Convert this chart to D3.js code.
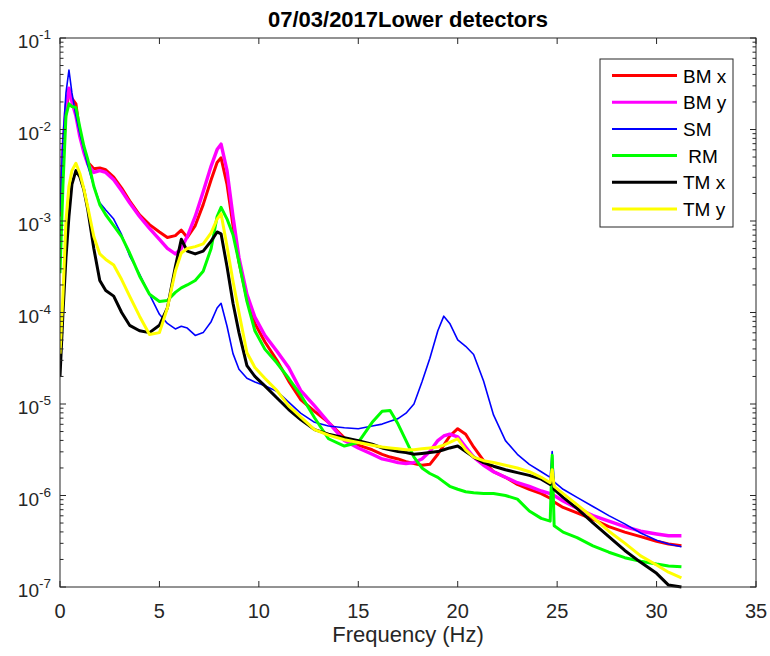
<!DOCTYPE html>
<html>
<head>
<meta charset="utf-8">
<script src="https://cdn.jsdelivr.net/npm/d3@7"></script>
<style>
  body { margin: 0; background: #fff; }
  svg { font-family: "Liberation Sans", Arial, sans-serif; }
</style>
</head>
<body>
<div id="canvas"></div>
<script>
"use strict"
let svgWidth = 770;
let svgHeight = 656;

let marginLeft = 60;
let marginRight = 14;
let marginTop = 38;
let marginBottom = 69;

// frequency grid (Hz), shared by all series
let freqs = [0, 0.15, 0.3, 0.45, 0.6, 0.8, 1.0, 1.2, 1.4, 1.7, 2.0, 2.3, 2.7, 3.1, 3.5, 4.0, 4.5, 5.0, 5.4, 5.8,
    6.1, 6.4, 6.8, 7.2, 7.6, 7.9, 8.1, 8.4, 8.7, 9.0, 9.4, 9.8, 10.3, 10.9, 11.5, 12.1, 12.8, 13.5, 14.3, 15.0,
    15.7, 16.2, 16.6, 17.0, 17.4, 17.8, 18.2, 18.6, 19.0, 19.3, 19.6, 20.0, 20.4, 20.8, 21.3, 21.8, 22.4, 23.0, 23.6, 24.2,
    24.65, 24.75, 24.85, 25.3, 26.0, 26.8, 27.6, 28.4, 29.2, 30.0, 30.6, 31.25];

let bmX = [1.12e-3, 5.0e-3, 1.58e-2, 2.51e-2, 2.19e-2, 1.91e-2, 8.91e-3, 6.03e-3, 4.37e-3, 3.72e-3, 3.80e-3, 3.63e-3, 3.02e-3, 2.29e-3, 1.66e-3, 1.17e-3, 9.12e-4, 7.59e-4, 6.61e-4, 6.92e-4,
    7.94e-4, 6.61e-4, 8.91e-4, 1.51e-3, 2.82e-3, 4.37e-3, 4.90e-3, 2.51e-3, 8.91e-4, 3.55e-4, 1.41e-4, 7.59e-5, 4.79e-5, 3.02e-5, 1.78e-5, 1.12e-5, 8.32e-6, 6.31e-6, 4.27e-6, 3.55e-6,
    3.16e-6, 2.82e-6, 2.63e-6, 2.51e-6, 2.34e-6, 2.24e-6, 2.14e-6, 2.19e-6, 2.82e-6, 3.55e-6, 4.47e-6, 5.37e-6, 4.68e-6, 3.39e-6, 2.40e-6, 1.82e-6, 1.58e-6, 1.32e-6, 1.17e-6, 1.05e-6,
    9.33e-7, 8.91e-7, 8.51e-7, 7.41e-7, 6.46e-7, 5.50e-7, 4.57e-7, 3.98e-7, 3.55e-7, 3.16e-7, 2.95e-7, 2.82e-7];

let bmY = [1.26e-3, 6.31e-3, 1.78e-2, 2.82e-2, 2.0e-2, 1.41e-2, 8.32e-3, 5.62e-3, 4.17e-3, 3.39e-3, 3.55e-3, 3.39e-3, 2.82e-3, 2.14e-3, 1.58e-3, 1.12e-3, 8.32e-4, 6.31e-4, 5.01e-4, 4.37e-4,
    5.01e-4, 6.76e-4, 1.12e-3, 2.09e-3, 3.98e-3, 6.03e-3, 6.92e-3, 3.55e-3, 1.12e-3, 3.98e-4, 1.58e-4, 8.91e-5, 5.62e-5, 3.80e-5, 2.51e-5, 1.41e-5, 9.55e-6, 6.31e-6, 3.98e-6, 3.31e-6,
    2.82e-6, 2.51e-6, 2.40e-6, 2.29e-6, 2.24e-6, 2.29e-6, 2.51e-6, 3.02e-6, 3.98e-6, 4.47e-6, 4.68e-6, 4.37e-6, 3.39e-6, 2.63e-6, 2.14e-6, 1.82e-6, 1.58e-6, 1.38e-6, 1.26e-6, 1.12e-6,
    1.05e-6, 1.02e-6, 1.0e-6, 8.71e-7, 7.24e-7, 6.03e-7, 5.25e-7, 4.57e-7, 4.07e-7, 3.80e-7, 3.63e-7, 3.63e-7];

let sm = [1.26e-3, 7.94e-3, 2.51e-2, 4.47e-2, 2.51e-2, 1.41e-2, 8.91e-3, 6.03e-3, 3.98e-3, 2.40e-3, 1.58e-3, 1.32e-3, 1.05e-3, 7.08e-4, 4.17e-4, 2.63e-4, 1.58e-4, 9.55e-5, 7.59e-5, 6.61e-5,
    7.08e-5, 6.76e-5, 5.62e-5, 6.03e-5, 7.94e-5, 1.12e-4, 1.26e-4, 7.08e-5, 3.55e-5, 2.40e-5, 1.91e-5, 1.74e-5, 1.58e-5, 1.38e-5, 1.05e-5, 7.94e-6, 6.31e-6, 5.75e-6, 5.50e-6, 5.37e-6,
    5.75e-6, 6.03e-6, 6.46e-6, 6.92e-6, 7.94e-6, 1.0e-5, 1.74e-5, 3.16e-5, 6.31e-5, 9.12e-5, 7.59e-5, 5.01e-5, 4.27e-5, 3.47e-5, 1.78e-5, 7.59e-6, 3.98e-6, 2.82e-6, 2.19e-6, 1.82e-6,
    1.58e-6, 3.02e-6, 1.41e-6, 1.17e-6, 9.55e-7, 7.59e-7, 6.03e-7, 4.90e-7, 3.89e-7, 3.24e-7, 2.95e-7, 2.75e-7];

let rm = [2.69e-4, 2.51e-3, 1.41e-2, 1.91e-2, 1.78e-2, 1.74e-2, 1.05e-2, 6.61e-3, 4.68e-3, 2.40e-3, 1.51e-3, 1.17e-3, 8.91e-4, 6.76e-4, 4.47e-4, 2.51e-4, 1.58e-4, 1.32e-4, 1.35e-4, 1.66e-4,
    1.86e-4, 2.0e-4, 2.24e-4, 2.82e-4, 5.01e-4, 1.12e-3, 1.41e-3, 1.05e-3, 7.08e-4, 3.55e-4, 1.32e-4, 6.31e-5, 3.98e-5, 2.82e-5, 1.91e-5, 1.26e-5, 7.08e-6, 4.17e-6, 3.47e-6, 3.80e-6,
    6.31e-6, 8.32e-6, 8.51e-6, 6.03e-6, 3.98e-6, 2.63e-6, 2.0e-6, 1.74e-6, 1.58e-6, 1.41e-6, 1.26e-6, 1.17e-6, 1.10e-6, 1.07e-6, 1.05e-6, 1.05e-6, 1.0e-6, 9.12e-7, 6.76e-7, 5.62e-7,
    5.25e-7, 2.75e-6, 4.68e-7, 3.98e-7, 3.47e-7, 2.82e-7, 2.40e-7, 2.09e-7, 1.91e-7, 1.78e-7, 1.70e-7, 1.66e-7];

let tmX = [2.0e-5, 1.0e-4, 3.98e-4, 1.12e-3, 2.51e-3, 3.55e-3, 3.02e-3, 2.19e-3, 1.32e-3, 5.01e-4, 2.24e-4, 1.74e-4, 1.51e-4, 1.0e-4, 7.24e-5, 6.31e-5, 6.03e-5, 7.24e-5, 1.12e-4, 3.16e-4,
    6.31e-4, 4.68e-4, 4.37e-4, 4.68e-4, 6.03e-4, 7.59e-4, 7.24e-4, 3.16e-4, 1.26e-4, 6.03e-5, 2.63e-5, 2.0e-5, 1.58e-5, 1.17e-5, 8.71e-6, 6.76e-6, 5.25e-6, 4.68e-6, 4.27e-6, 3.98e-6,
    3.63e-6, 3.31e-6, 3.16e-6, 3.02e-6, 2.95e-6, 2.82e-6, 2.88e-6, 2.95e-6, 3.02e-6, 3.16e-6, 3.31e-6, 3.47e-6, 3.02e-6, 2.63e-6, 2.29e-6, 2.09e-6, 1.91e-6, 1.78e-6, 1.66e-6, 1.51e-6,
    1.32e-6, 1.78e-6, 1.17e-6, 9.55e-7, 7.24e-7, 5.01e-7, 3.55e-7, 2.51e-7, 1.86e-7, 1.41e-7, 1.05e-7, 1.0e-7];

let tmY = [3.55e-5, 1.58e-4, 1.0e-3, 2.40e-3, 3.55e-3, 4.27e-3, 3.31e-3, 2.24e-3, 1.41e-3, 6.76e-4, 4.37e-4, 3.80e-4, 3.31e-4, 2.29e-4, 1.51e-4, 9.12e-5, 5.75e-5, 6.03e-5, 1.12e-4, 2.82e-4,
    4.47e-4, 5.01e-4, 5.25e-4, 5.62e-4, 7.41e-4, 1.05e-3, 1.20e-3, 5.25e-4, 2.19e-4, 1.0e-4, 3.63e-5, 2.51e-5, 1.91e-5, 1.41e-5, 9.55e-6, 7.24e-6, 5.25e-6, 4.57e-6, 4.07e-6, 3.80e-6,
    3.55e-6, 3.39e-6, 3.31e-6, 3.24e-6, 3.16e-6, 3.16e-6, 3.24e-6, 3.31e-6, 3.39e-6, 3.55e-6, 3.80e-6, 4.17e-6, 3.16e-6, 2.63e-6, 2.40e-6, 2.29e-6, 2.14e-6, 2.0e-6, 1.82e-6, 1.58e-6,
    1.38e-6, 1.91e-6, 1.26e-6, 1.05e-6, 7.94e-7, 5.75e-7, 4.07e-7, 3.02e-7, 2.19e-7, 1.74e-7, 1.45e-7, 1.26e-7];

let seriesNames = ["BM x", "BM y", "SM", " RM", "TM x", "TM y"];
let seriesValues = [bmX, bmY, sm, rm, tmX, tmY];
let seriesColors = ["#ff0000", "#ff00ff", "#0000ff", "#00ff00", "#000000", "#ffff00"];
let seriesWidths = [3, 3.4, 1.6, 3, 3, 3];

let xTicks = [0, 5, 10, 15, 20, 25, 30, 35];
let yExponents = [-1, -2, -3, -4, -5, -6, -7];

let axisColor = "#262626";

let svg = d3.select("#canvas")
    .append("svg")
    .attr("width", svgWidth)
    .attr("height", svgHeight);

let xScale = d3.scaleLinear()
    .domain([0, 35])
    .range([marginLeft, svgWidth - marginRight]);

let yScale = d3.scaleLog()
    .domain([1e-7, 1e-1])
    .range([svgHeight - marginBottom, marginTop]);

let plotLeft = marginLeft;
let plotRight = svgWidth - marginRight;
let plotTop = marginTop;
let plotBottom = svgHeight - marginBottom;

// curves
svg.append("clipPath").attr("id", "plotclip")
    .append("rect")
    .attr("x", plotLeft)
    .attr("y", plotTop)
    .attr("width", plotRight - plotLeft)
    .attr("height", plotBottom - plotTop + 2);

let line = d3.line()
    .x(function(d) { return xScale(d[0]); })
    .y(function(d) { return yScale(d[1]); });

let curves = svg.append("g").attr("clip-path", "url(#plotclip)");
for (let i = 0; i < seriesValues.length; i++) {
    let pts = freqs.map(function(f, j) { return [f, seriesValues[i][j]]; });
    curves.append("path")
        .attr("d", line(pts))
        .attr("fill", "none")
        .attr("stroke", seriesColors[i])
        .attr("stroke-width", seriesWidths[i])
        .attr("stroke-linejoin", "round");
}

// axes box
svg.append("rect")
    .attr("x", plotLeft)
    .attr("y", plotTop)
    .attr("width", plotRight - plotLeft)
    .attr("height", plotBottom - plotTop)
    .attr("fill", "none")
    .attr("stroke", axisColor)
    .attr("stroke-width", 1);

// x ticks, bottom and top, pointing inward
xTicks.forEach(function(t) {
    let x = xScale(t);
    svg.append("line").attr("x1", x).attr("x2", x)
        .attr("y1", plotBottom).attr("y2", plotBottom - 6)
        .attr("stroke", axisColor);
    svg.append("line").attr("x1", x).attr("x2", x)
        .attr("y1", plotTop).attr("y2", plotTop + 6)
        .attr("stroke", axisColor);
    svg.append("text")
        .attr("x", x)
        .attr("y", plotBottom + 31)
        .attr("text-anchor", "middle")
        .attr("font-size", 20)
        .attr("fill", axisColor)
        .text(t);
});

// y ticks, log: majors and minors on both sides
for (let e = -7; e <= -1; e++) {
    for (let m = 1; m <= 9; m++) {
        let v = m * Math.pow(10, e);
        let y = yScale(v);
        let len = (m == 1) ? 6 : 3.5;
        svg.append("line").attr("x1", plotLeft).attr("x2", plotLeft + len)
            .attr("y1", y).attr("y2", y).attr("stroke", axisColor);
        svg.append("line").attr("x1", plotRight).attr("x2", plotRight - len)
            .attr("y1", y).attr("y2", y).attr("stroke", axisColor);
        if (e == -1) break;
    }
}

yExponents.forEach(function(e) {
    let y = yScale(Math.pow(10, e));
    let label = svg.append("text")
        .attr("x", plotLeft - 9)
        .attr("y", y + 10)
        .attr("text-anchor", "end")
        .attr("font-size", 19)
        .attr("fill", axisColor);
    label.append("tspan").text("10");
    label.append("tspan")
        .attr("dy", -9)
        .attr("font-size", 13.5)
        .text(String(e));
});

// title and x label
svg.append("text")
    .attr("x", (plotLeft + plotRight) / 2)
    .attr("y", 27)
    .attr("text-anchor", "middle")
    .attr("font-size", 22)
    .attr("font-weight", "bold")
    .attr("fill", "#000")
    .text("07/03/2017Lower detectors");

svg.append("text")
    .attr("x", (plotLeft + plotRight) / 2)
    .attr("y", 642)
    .attr("text-anchor", "middle")
    .attr("font-size", 22)
    .attr("fill", axisColor)
    .text("Frequency (Hz)");

// legend
let legendX = 600;
let legendY = 59;
svg.append("rect")
    .attr("x", legendX)
    .attr("y", legendY)
    .attr("width", 133)
    .attr("height", 168)
    .attr("fill", "#fff")
    .attr("stroke", axisColor)
    .attr("stroke-width", 1);

for (let i = 0; i < seriesNames.length; i++) {
    let y = legendY + 16.5 + i * 26.7;
    svg.append("line")
        .attr("x1", legendX + 12)
        .attr("x2", legendX + 77)
        .attr("y1", y)
        .attr("y2", y)
        .attr("stroke", seriesColors[i])
        .attr("stroke-width", i == 2 ? 2 : 3);
    svg.append("text")
        .attr("x", legendX + 83)
        .attr("y", y + 7)
        .attr("font-size", 19)
        .attr("fill", "#000")
        .attr("xml:space", "preserve")
        .style("white-space", "pre")
        .text(seriesNames[i]);
}
</script>
</body>
</html>
